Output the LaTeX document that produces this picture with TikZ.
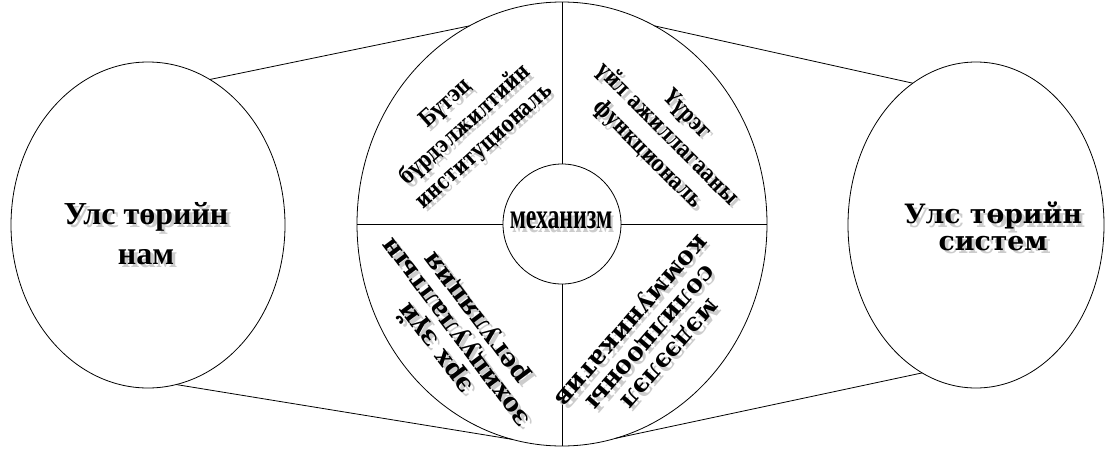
\documentclass[tikz,border=0pt]{standalone}
\usepackage{fontspec}
\setmainfont{Liberation Serif}
\newfontfamily\shirfont{DejaVu Serif}
\newfontfamily\narfont[FakeStretch=0.8]{DejaVu Serif}
\usetikzlibrary{shapes.geometric}
\definecolor{suuder}{gray}{0.8}
\tikzstyle{krug}=[draw, ellipse, inner sep=0pt, outer sep=0pt, line width=0.6pt]
\tikzstyle{shugam}=[line width=0.6pt]
\tikzstyle{bichig}=[align=center, inner sep=0pt, font=\narfont\bfseries\fontsize{17}{21}\selectfont]
\tikzstyle{shirbichig}=[bichig, font=\shirfont\bfseries\fontsize{19}{19}\selectfont]
% gray copy below right, #1 = rotation of the node
\newcommand{\shd}[2]{%
  \pgfmathsetmacro{\shdx}{2.6*(cos(#1)-sin(#1))}%
  \pgfmathsetmacro{\shdy}{-2.6*(sin(#1)+cos(#1))}%
  \leavevmode\rlap{\hspace*{\shdx pt}\raisebox{\shdy pt}{\textcolor{suuder}{#2}}}#2}

\begin{document}
\begin{tikzpicture}[x=0.75pt, y=-0.75pt]
    \useasboundingbox (0,0) rectangle (1110,454);

    % CIRCLES
    \node[krug, minimum width=205.5pt, minimum height=244.5pt] (Nam) at (148,225) {};
    \node[krug, minimum width=192pt, minimum height=244.5pt] (Sistem) at (976,225) {};
    \node[krug, minimum width=307.5pt, minimum height=333pt] (Tom) at (562,224) {};
    \node[krug, minimum width=88.5pt, minimum height=90pt] (Mekh) at (562,224) {};

    % TANGENTS
    \draw[shugam] (Nam.67) -- (Tom.115) ;
    \draw[shugam] (Tom.65) -- (Sistem.114) ;
    \draw[shugam] (Nam.-80) -- (Tom.-103) ;
    \draw[shugam] (Tom.-76) -- (Sistem.-110) ;

    % CROSS
    \draw[shugam] (Tom.west) -- (Mekh.west) ;
    \draw[shugam] (Mekh.east) -- (Tom.east) ;
    \draw[shugam] (Tom.north) -- (Mekh.north) ;
    \draw[shugam] (Mekh.south) -- (Tom.south) ;

    % TEXTS
    \node[bichig, font=\rmfamily\bfseries\fontsize{24}{30}\selectfont] (tNam) at (146,235)
        {\shd{0}{Улс төрийн}\\\shd{0}{нам}} ;
    \node[shirbichig, font=\shirfont\bfseries\fontsize{20}{20}\selectfont] (tSistem) at (993,228)
        {\shd{0}{Улс төрийн}\\\shd{0}{систем}} ;
    \node[bichig, font=\rmfamily\bfseries\fontsize{27}{27}\selectfont, xscale=0.66] (tMekh) at (561,222)
        {\shd{0}{механизм}} ;

    \node[bichig, rotate=42] (tButets) at (467,127)
        {\shd{42}{Бүтэц}\\\shd{42}{бүрдэлжилтийн}\\\shd{42}{институциональ}} ;
    \node[bichig, rotate=-45] (tUureg) at (667,135)
        {\shd{-45}{Үүрэг}\\\shd{-45}{үйл ажиллагааны}\\\shd{-45}{функциональ}} ;
    \node[shirbichig, rotate=127] (tErh) at (456,333)
        {\shd{127}{эрх зүй}\\\shd{127}{зохицуулалтын}\\\shd{127}{регуляция}} ;
    \node[shirbichig, rotate=-131] (tMedeelel) at (650,337)
        {\shd{-131}{мэдээлэл}\\\shd{-131}{солилцооны}\\\shd{-131}{коммуникатив}} ;

\end{tikzpicture}
\end{document}
